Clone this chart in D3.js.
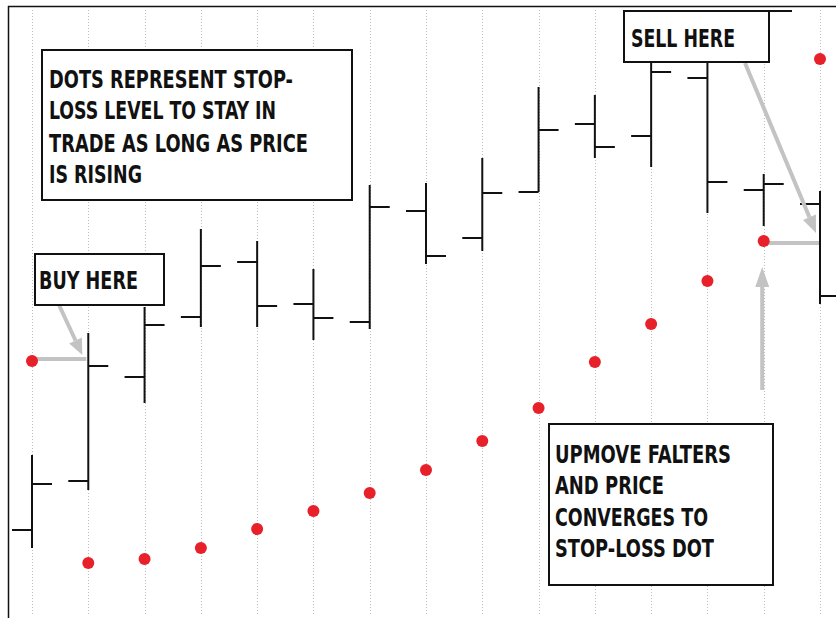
<!DOCTYPE html>
<html>
<head>
<meta charset="utf-8">
<script src="https://cdn.jsdelivr.net/npm/d3@7"></script>
<style>
  body { margin: 0; background: #fff; }
  svg text { font-family: "Liberation Sans Narrow", "DejaVu Sans Condensed", "Roboto", sans-serif; font-weight: bold; fill: #111; }
</style>
</head>
<body>
<div id="chart"></div>
<script>
// price bars (arbitrary price units)
var sessions = d3.range(15);
var opens  = [97.0, 101.9, 112.3, 118.3, 123.8, 119.6, 117.8, 128.9, 126.2, 130.8, 137.6, 136.4, 142.2, 131.0, 129.6];
var highs  = [104.5, 116.7, 119.3, 127.1, 125.9, 123.1, 131.5, 131.7, 134.2, 141.3, 140.5, 145.5, 145.0, 132.6, 130.9];
var lows   = [95.2, 101.0, 109.7, 117.3, 117.3, 116.0, 117.1, 123.6, 124.9, 130.8, 134.2, 133.3, 128.7, 127.4, 119.6];
var closes = [101.6, 113.4, 117.5, 123.4, 119.4, 118.2, 129.3, 124.4, 130.7, 137.0, 135.3, 142.8, 131.8, 131.6, 120.4];
// stop-loss dots
var stops  = [113.9, 93.7, 94.1, 95.2, 97.1, 98.9, 100.7, 103.0, 105.9, 109.2, 113.8, 117.6, 121.9, 125.9, 144.1];

var notes = [
  { lines: ["DOTS REPRESENT STOP-", "LOSS LEVEL TO STAY IN", "TRADE AS LONG AS PRICE", "IS RISING"] },
  { lines: ["BUY HERE"] },
  { lines: ["SELL HERE"] },
  { lines: ["UPMOVE FALTERS", "AND PRICE", "CONVERGES TO", "STOP-LOSS DOT"] }
];

var svgWidth = 836;
var svgHeight = 618;

var svg = d3.select("#chart")
    .append("svg")
    .attr("width", svgWidth)
    .attr("height", svgHeight);

var xScale = d3.scaleLinear()
    .domain([0, 14])
    .range([32, 820]);

var yScale = d3.scaleLinear()
    .domain([90, 150])
    .range([600, 0]);

var grey = "#c3c3c3";

// frame
svg.append("line").attr("x1", 8.5).attr("x2", 8.5).attr("y1", 6).attr("y2", svgHeight)
    .attr("stroke", "#111").attr("stroke-width", 1.5);
svg.append("line").attr("x1", 8).attr("x2", svgWidth).attr("y1", 6.5).attr("y2", 6.5)
    .attr("stroke", "#111").attr("stroke-width", 1.5);

// dotted session lines
svg.append("g").selectAll("line")
    .data(sessions)
    .enter()
    .append("line")
    .attr("x1", d => Math.round(xScale(d)) + 0.5)
    .attr("x2", d => Math.round(xScale(d)) + 0.5)
    .attr("y1", 10)
    .attr("y2", 614)
    .attr("stroke", "#bdbdbd")
    .attr("stroke-dasharray", "1,2")
    .attr("stroke-width", 1);

// OHLC bars
var bars = svg.append("g").attr("stroke", "#111").attr("stroke-width", 2);
sessions.forEach(function(i) {
    var x = xScale(i);
    bars.append("line").attr("x1", x).attr("x2", x)
        .attr("y1", yScale(highs[i])).attr("y2", yScale(lows[i]));
    bars.append("line").attr("x1", x - 20).attr("x2", x)
        .attr("y1", yScale(opens[i])).attr("y2", yScale(opens[i]));
    bars.append("line").attr("x1", x).attr("x2", x + 20)
        .attr("y1", yScale(closes[i])).attr("y2", yScale(closes[i]));
});

// grey pointers
var ann = svg.append("g");
function arrow(x1, y1, x2, y2, len, half) {
    var a = Math.atan2(y2 - y1, x2 - x1);
    var bx = x2 - len * Math.cos(a), by = y2 - len * Math.sin(a);
    ann.append("line").attr("x1", x1).attr("y1", y1).attr("x2", bx).attr("y2", by)
        .attr("stroke", grey).attr("stroke-width", 4);
    var px = -Math.sin(a) * half, py = Math.cos(a) * half;
    ann.append("path")
        .attr("d", `M${x2},${y2}L${bx + px},${by + py}L${bx - px},${by - py}Z`)
        .attr("fill", grey);
}

// buy: dot 0 to bar 1
ann.append("line")
    .attr("x1", xScale(0)).attr("x2", xScale(1) - 2)
    .attr("y1", 359).attr("y2", 359)
    .attr("stroke", grey).attr("stroke-width", 4);
arrow(59, 305, xScale(1) - 6, 355, 16, 7);

// sell: dot 13 to bar 14
ann.append("line")
    .attr("x1", xScale(13)).attr("x2", xScale(14) - 1)
    .attr("y1", yScale(stops[13]) + 2).attr("y2", yScale(stops[13]) + 2)
    .attr("stroke", grey).attr("stroke-width", 4);
arrow(745, 63, xScale(14) - 4, 233, 17, 7);
arrow(xScale(13) - 1.5, 390, xScale(13) - 1.5, 267, 20, 7);

// stop-loss dots
svg.append("g").selectAll("circle")
    .data(sessions)
    .enter()
    .append("circle")
    .attr("cx", d => xScale(d))
    .attr("cy", d => yScale(stops[d]))
    .attr("r", 6)
    .attr("fill", "#e8202a");

// text boxes
var boxes = [
    { x: 42, y: 50, w: 310, h: 150, tx: 49, base: [88, 118.5, 151.5, 183], len: [244, 227, 259, 93] },
    { x: 35, y: 254, w: 129, h: 51, tx: 39, base: [289], len: [99] },
    { x: 624, y: 11, w: 145, h: 51, tx: 631, base: [46.5], len: [104] },
    { x: 549, y: 424, w: 224, h: 161, tx: 555, base: [462.5, 494, 526, 557.3], len: [176, 109, 153, 159] }
];

// top edge of the sell box runs a bit further right
svg.append("line").attr("x1", 623).attr("x2", 792).attr("y1", 11).attr("y2", 11)
    .attr("stroke", "#111").attr("stroke-width", 2);

boxes.forEach(function(b, k) {
    var g = svg.append("g");
    g.append("rect")
        .attr("x", b.x).attr("y", b.y)
        .attr("width", b.w).attr("height", b.h)
        .attr("fill", "#fff")
        .attr("stroke", "#111")
        .attr("stroke-width", 2);
    notes[k].lines.forEach(function(t, j) {
        g.append("text")
            .attr("x", b.tx)
            .attr("y", b.base[j])
            .attr("textLength", b.len[j])
            .attr("lengthAdjust", "spacingAndGlyphs")
            .style("font-size", "24px")
            .text(t);
    });
});
</script>
</body>
</html>
